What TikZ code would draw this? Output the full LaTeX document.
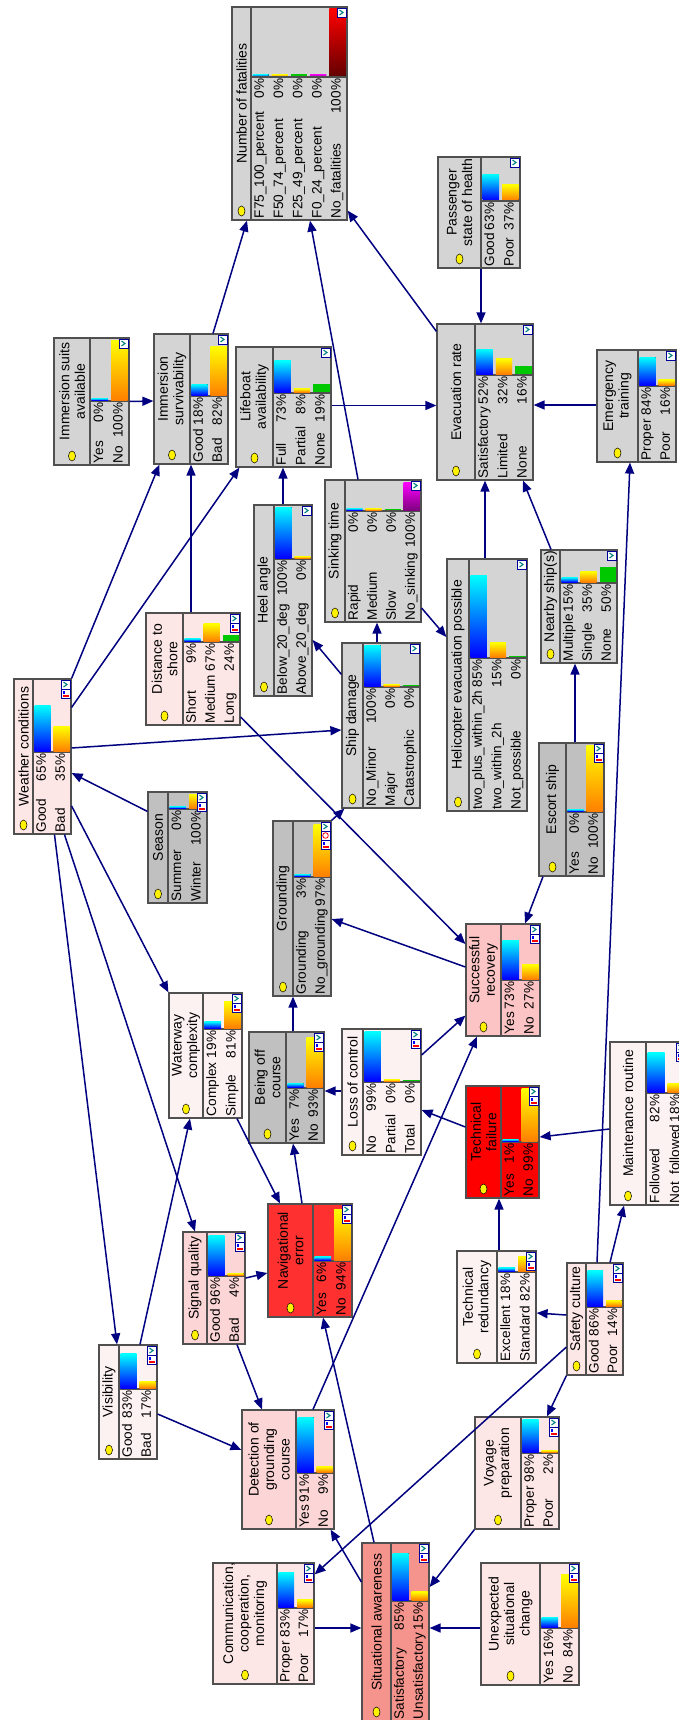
\documentclass[tikz,border=0pt]{standalone}
\usepackage{fontspec}
\setmainfont{Liberation Sans}
\usetikzlibrary{arrows.meta}

\definecolor{ngray}{RGB}{212,212,212}
\definecolor{dgray}{RGB}{192,192,192}
\definecolor{pinka}{RGB}{253,242,242}
\definecolor{pinkb}{RGB}{253,230,230}
\definecolor{pinkc}{RGB}{252,214,214}
\definecolor{pinkd}{RGB}{252,196,196}
\definecolor{salmonc}{RGB}{245,148,140}
\definecolor{reda}{RGB}{255,48,48}
\definecolor{redb}{RGB}{255,0,0}
\definecolor{navyc}{RGB}{0,0,128}
\definecolor{framec}{RGB}{80,80,80}
\definecolor{bargreen}{RGB}{0,200,0}
\definecolor{barpurple}{RGB}{128,0,128}
\definecolor{bardark}{RGB}{100,0,0}
\definecolor{barorange}{RGB}{255,128,0}
\definecolor{checkteal}{RGB}{0,128,128}

\tikzset{
  bnframe/.style={draw=framec, line width=1.2pt, rectangle, inner sep=0pt},
  bnline/.style={draw=framec, line width=1.2pt},
  ttl/.style={rotate=90, align=center, inner sep=0pt, font=\fontsize{14}{15.5}\selectfont},
  stxt/.style={rotate=90, inner sep=0.6pt, text height=1.5ex, text depth=.25ex, font=\fontsize{13.6}{15}\selectfont},
  dotst/.style={fill=yellow, draw=black, line width=0.5pt},
  iconbox/.style={fill=white, draw=blue!60!black, line width=0.6pt},
  checkc/.style={draw=checkteal, line width=1.1pt},
  barfill/.code={\ifcase#1\relax
      \tikzset{top color=cyan, bottom color=blue}\or
      \tikzset{top color=yellow, bottom color=barorange}\or
      \tikzset{fill=bargreen}\or
      \tikzset{top color=magenta, bottom color=barpurple}\or
      \tikzset{top color=red, bottom color=bardark}\fi},
  conn/.style={draw=navyc, line width=1.5pt, -{Triangle[length=11pt,width=9pt]}}
}

% frame, dividers, title and dot of one network node
\newcommand{\bnnode}[9]{%
  \def\bxa{#3}\def\bya{#4}\def\bxb{#5}\def\byb{#6}\def\bxt{#7}\def\byt{#8}%
  \node[bnframe, fill=#2, minimum width={(#5-#3)*1pt}, minimum height={(#6-#4)*1pt}] (#1) at ({(#3+#5)/2},{(#4+#6)/2}) {};
  \draw[bnline] (#7,#4) -- (#7,#6) (#7,#8) -- (#5,#8);
  \node[ttl] at ({(#3+#7)/2},{(#4+#6-20)/2}) {#9};
  \draw[dotst] ({(#3+#7)/2},{#6-9}) ellipse [x radius=3.5pt, y radius=5pt];
}

% states: names, percentages and bars
\newcommand{\bnstates}[2]{%
  \pgfmathsetmacro\rowh{(\bxb-\bxt)/#1}%
  \foreach \sname/\sval [count=\i from 0] in {#2} {%
    \pgfmathsetmacro\cx{\bxt+(\i+0.5)*\rowh}%
    \pgfmathsetmacro\bh{max(1.5,\sval/100*(\byt-\bya-3))}%
    \fill[barfill=\i] ({\cx-\rowh/2+1.5},{\byt-1}) rectangle ({\cx+\rowh/2-1.5},{\byt-1-\bh});
    \node[stxt, anchor=west] at (\cx,{\byb-1}) {\sname};
    \node[stxt, anchor=east] at (\cx,{\byt+1}) {\sval\%};
  }%
}

\newcommand{\bnhist}[1]{%
  \draw[iconbox] ({\bxb-10},{\bya+1+#1}) rectangle ({\bxb-1},{\bya+10+#1});
  \fill[blue] ({\bxb-8.5},{\bya+3+#1}) rectangle ({\bxb-6},{\bya+6+#1});
  \fill[red] ({\bxb-8.5},{\bya+6.5+#1}) rectangle ({\bxb-2.5},{\bya+8.5+#1});
}

% small icons in the corner of the bar area
\newcommand{\bnicons}[1]{%
  \draw[iconbox] ({\bxb-10},{\bya+1}) rectangle ({\bxb-1},{\bya+10});
  \draw[checkc] ({\bxb-7.5},{\bya+3}) -- ({\bxb-4},{\bya+5.5}) -- ({\bxb-7.5},{\bya+8});
  \ifnum#1=2 \bnhist{9}\fi
  \ifnum#1=3
    \draw[iconbox] ({\bxb-10},{\bya+10}) rectangle ({\bxb-1},{\bya+19});
    \draw[red, line width=0.8pt] ({\bxb-5.5},{\bya+14.5}) circle [radius=2.8pt];
    \bnhist{18}
  \fi
}

\begin{document}
\begin{tikzpicture}[x=1pt, y=-1pt]
  \fill[white] (0,0) rectangle (678,1720);
  \useasboundingbox (0,0) rectangle (678,1720);

  \bnnode{fat}{ngray}{232}{7}{347}{220}{251}{77}{Number of fatalities}
  \bnstates{5}{F75\_100\_percent/0, F50\_74\_percent/0, F25\_49\_percent/0, F0\_24\_percent/0, No\_fatalities/100}
  \bnicons{1}
  \bnnode{pass}{ngray}{438}{157}{520}{268}{481}{201}{Passenger\\state of health}
  \bnstates{2}{Good/63, Poor/37}
  \bnicons{1}
  \bnnode{evac}{ngray}{437}{324}{533}{480}{475}{375}{Evacuation rate}
  \bnstates{3}{Satisfactory/52, Limited/32, None/16}
  \bnicons{1}
  \bnnode{emerg}{ngray}{597}{350}{676}{462}{638}{386}{Emergency\\training}
  \bnstates{2}{Proper/84, Poor/16}
  \bnicons{1}
  \bnnode{suits}{ngray}{54}{338}{129}{465}{90}{401}{Immersion suits\\available}
  \bnstates{2}{Yes/0, No/100}
  \bnicons{1}
  \bnnode{surv}{ngray}{154}{334}{228}{464}{190}{396}{Immersion\\survivability}
  \bnstates{2}{Good/18, Bad/82}
  \bnicons{1}
  \bnnode{lifeb}{ngray}{236}{347}{331}{467}{273}{393}{Lifeboat\\availability}
  \bnstates{3}{Full/73, Partial/8, None/19}
  \bnicons{1}
  \bnnode{heel}{ngray}{254}{505}{312}{696}{274}{559}{Heel angle}
  \bnstates{2}{Below\_20\_deg/100, Above\_20\_deg/0}
  \bnicons{1}
  \bnnode{sink}{ngray}{325}{480}{421}{622}{345}{511}{Sinking time}
  \bnstates{4}{Rapid/0, Medium/0, Slow/0, No\_sinking/100}
  \bnicons{1}
  \bnnode{dmg}{ngray}{342}{643}{420}{808}{363}{687}{Ship damage}
  \bnstates{3}{No\_Minor/100, Major/0, Catastrophic/0}
  \bnicons{1}
  \bnnode{heli}{ngray}{447}{559}{527}{811}{469}{658}{Helicopter evacuation possible}
  \bnstates{3}{two\_plus\_within\_2h/85, two\_within\_2h/15, Not\_possible/0}
  \bnicons{1}
  \bnnode{nearby}{ngray}{541}{550}{617}{663}{560}{583}{Nearby ship(s)}
  \bnstates{3}{Multiple/15, Single/35, None/50}
  \bnicons{1}
  \bnnode{escort}{dgray}{539}{743}{604}{876}{566}{812}{Escort ship}
  \bnstates{2}{Yes/0, No/100}
  \bnicons{2}
  \bnnode{weather}{pinkb}{14}{679}{71}{834}{33}{752}{Weather conditions}
  \bnstates{2}{Good/65, Bad/35}
  \bnicons{2}
  \bnnode{dist}{pinkb}{146}{613}{240}{725}{183}{642}{Distance to\\shore}
  \bnstates{3}{Short/9, Medium/67, Long/24}
  \bnicons{2}
  \bnnode{season}{dgray}{148}{792}{207}{903}{168}{809}{Season}
  \bnstates{2}{Summer/0, Winter/100}
  \bnicons{2}
  \bnnode{ground}{dgray}{273}{821}{331}{996}{293}{877}{Grounding}
  \bnstates{2}{Grounding/3, No\_grounding/97}
  \bnicons{3}
  \bnnode{recov}{pinkd}{466}{924}{540}{1036}{501}{980}{Successful\\recovery}
  \bnstates{2}{Yes/73, No/27}
  \bnicons{2}
  \bnnode{water}{pinka}{169}{993}{242}{1118}{203}{1029}{Waterway\\complexity}
  \bnstates{2}{Complex/19, Simple/81}
  \bnicons{2}
  \bnnode{offc}{dgray}{249}{1032}{324}{1143}{286}{1088}{Being off\\course}
  \bnstates{2}{Yes/7, No/93}
  \bnicons{2}
  \bnnode{loss}{pinka}{342}{1029}{421}{1155}{363}{1082}{Loss of control}
  \bnstates{3}{No/99, Partial/0, Total/0}
  \bnicons{2}
  \bnnode{techf}{redb}{466}{1086}{539}{1198}{501}{1142}{Technical\\failure}
  \bnstates{2}{Yes/1, No/99}
  \bnicons{2}
  \bnnode{maint}{pinka}{610}{1042}{686}{1205}{646}{1093}{Maintenance routine}
  \bnstates{2}{Followed/82, Not\_followed/18}
  \bnicons{2}
  \bnnode{naverr}{reda}{268}{1204}{352}{1317}{313}{1261}{Navigational\\error}
  \bnstates{2}{Yes/6, No/94}
  \bnicons{2}
  \bnnode{signal}{pinkc}{183}{1232}{245}{1344}{207}{1276}{Signal quality}
  \bnstates{2}{Good/96, Bad/4}
  \bnicons{2}
  \bnnode{visib}{pinka}{99}{1345}{157}{1459}{119}{1389}{Visibility}
  \bnstates{2}{Good/83, Bad/17}
  \bnicons{2}
  \bnnode{techr}{pinka}{457}{1251}{536}{1363}{497}{1272}{Technical\\redundancy}
  \bnstates{2}{Excellent/18, Standard/82}
  \bnicons{2}
  \bnnode{safety}{pinkb}{567}{1263}{623}{1375}{586}{1307}{Safety culture}
  \bnstates{2}{Good/86, Poor/14}
  \bnicons{2}
  \bnnode{detect}{pinkc}{242}{1410}{334}{1529}{296}{1473}{Detection of\\grounding\\course}
  \bnstates{2}{Yes/91, No/9}
  \bnicons{2}
  \bnnode{voyage}{pinkb}{475}{1417}{559}{1529}{521}{1453}{Voyage\\preparation}
  \bnstates{2}{Proper/98, Poor/2}
  \bnicons{2}
  \bnnode{comm}{pinkb}{213}{1563}{314}{1684}{277}{1608}{Communication,\\cooperation,\\monitoring}
  \bnstates{2}{Proper/83, Poor/17}
  \bnicons{2}
  \bnnode{sitaw}{salmonc}{362}{1543}{429}{1721}{391}{1601}{Situational awareness}
  \bnstates{2}{Satisfactory/85, Unsatisfactory/15}
  \bnicons{2}
  \bnnode{unexp}{pinkb}{481}{1563}{579}{1685}{540}{1628}{Unexpected\\situational\\change}
  \bnstates{2}{Yes/16, No/84}
  \bnicons{2}

  % links
  \draw[conn] ([xshift=22pt]surv.north) -- ([xshift=-42.5pt]fat.south);
  \draw[conn] ([xshift=-15pt]sink.north) -- ([xshift=20.5pt]fat.south);
  \draw[conn] ([yshift=-8pt]evac.north west) -- ([yshift=10pt]fat.south east);
  \draw[conn] (suits.east) -- ([yshift=-2pt]surv.west);
  \draw[conn] ([xshift=2pt]pass.south) -- ([xshift=-4pt]evac.north);
  \draw[conn] ([yshift=1pt]emerg.west) -- ([yshift=-3pt]evac.east);
  \draw[conn] ([yshift=1.5pt]lifeb.east) -- ([yshift=-3.5pt]evac.west);
  \draw[conn] ([xshift=-2pt]heli.north) -- (evac.south);
  \draw[conn] ([xshift=-28pt]nearby.north) -- ([xshift=38pt]evac.south);
  \draw[conn] (weather.north east) -- ([xshift=6pt]surv.south west);
  \draw[conn] ([yshift=-29pt]weather.north east) -- ([xshift=4pt]lifeb.south west);
  \draw[conn] ([xshift=-2pt]dist.north) -- (surv.south);
  \draw[conn] ([yshift=8.5pt]weather.east) -- ([yshift=-4.5pt]dmg.west);
  \draw[conn] ([yshift=-20pt]season.north west) -- ([yshift=-16.5pt]weather.east);
  \draw[conn] ([yshift=-32pt]dmg.north west) -- ([yshift=-39.5pt]heel.east);
  \draw[conn] (heel.north) -- ([xshift=-0.5pt]lifeb.south);
  \draw[conn] ([xshift=-4pt]dmg.north) -- ([xshift=4pt]sink.south);
  \draw[conn] ([yshift=-57pt]sink.east) -- ([yshift=48pt]heli.west);
  \draw[conn] ([xshift=3.5pt]escort.north) -- ([xshift=-4pt]nearby.south);
  \draw[conn] ([xshift=-28.5pt]escort.south) -- ([xshift=22pt]recov.north);
  \draw[conn] ([yshift=-48pt]dist.east) -- ([yshift=36pt]recov.west);
  \draw[conn] ([yshift=13pt]recov.west) -- ([yshift=-10.5pt]ground.east);
  \draw[conn] (ground.north east) -- ([xshift=3pt]dmg.south west);
  \draw[conn] ([xshift=6.5pt]offc.north) -- ([xshift=-9pt]ground.south);
  \draw[conn] ([yshift=1pt]loss.west) -- ([yshift=-3.5pt]offc.east);
  \draw[conn] ([yshift=37pt]loss.east) -- ([yshift=21pt]recov.south west);
  \draw[conn] ([yshift=15pt]techf.west) -- ([yshift=-18pt]loss.east);
  \draw[conn] ([yshift=-5.5pt]maint.west) -- ([yshift=5pt]techf.east);
  \draw[conn] ([xshift=2.5pt]techr.north) -- ([xshift=-3.5pt]techf.south);
  \draw[conn] ([yshift=4pt]safety.west) -- ([yshift=-6pt]techr.east);
  \draw[conn] ([xshift=15pt]safety.north) -- ([xshift=-24pt]maint.south);
  \draw[conn] ([xshift=2pt]safety.north) -- ([xshift=-6.5pt]emerg.south);
  \draw[conn] (safety.south west) -- ([xshift=30pt]voyage.north);
  \draw[conn] ([yshift=-28pt]safety.west) -- ([yshift=-12pt]comm.north east);
  \draw[conn] ([xshift=12pt]visib.north) -- ([xshift=-15.5pt]water.south);
  \draw[conn] ([xshift=12pt]weather.south) -- ([xshift=-11pt]visib.north);
  \draw[conn] ([xshift=22pt]weather.south) -- ([xshift=-19pt]signal.north);
  \draw[conn] ([yshift=-49.5pt]weather.east) -- (water.north west);
  \draw[conn] ([xshift=31.5pt]water.south) -- ([xshift=-30pt]naverr.north);
  \draw[conn] ([yshift=10pt]signal.east) -- ([yshift=-12.5pt]naverr.west);
  \draw[conn] ([xshift=23pt]signal.south) -- ([xshift=-26pt]detect.north);
  \draw[conn] ([yshift=-12pt]visib.east) -- ([yshift=19.5pt]detect.west);
  \draw[conn] ([xshift=-8pt]naverr.north) -- ([xshift=6.5pt]offc.south);
  \draw[conn] ([xshift=-21.5pt]sitaw.north) -- ([xshift=13pt]naverr.south);
  \draw[conn] ([xshift=25pt]detect.north) -- ([xshift=-26pt]recov.south);
  \draw[conn] ([yshift=50pt]sitaw.west) -- ([xshift=-4pt]detect.south east);
  \draw[conn] ([yshift=-4.5pt]comm.east) -- ([yshift=4pt]sitaw.west);
  \draw[conn] ([yshift=-4pt]unexp.west) -- ([yshift=4pt]sitaw.east);
  \draw[conn] (voyage.south west) -- ([yshift=45pt]sitaw.east);
\end{tikzpicture}
\end{document}
